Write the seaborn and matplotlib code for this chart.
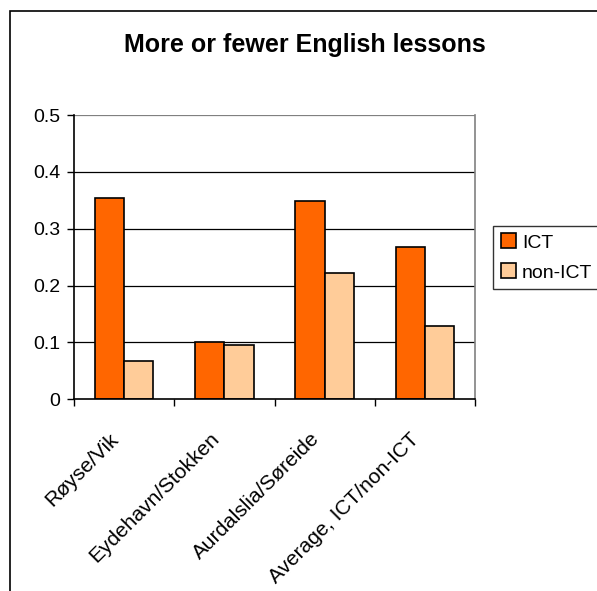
import matplotlib
matplotlib.use("Agg")
import matplotlib.pyplot as plt
import matplotlib.transforms as mtransforms
from matplotlib.patches import Rectangle
import seaborn as sns
import pandas as pd
import numpy as np

categories = ["Røyse/Vik", "Eydehavn/Stokken", "Aurdalslia/Søreide", "Average, ICT/non-ICT"]
ict = [0.354, 0.101, 0.348, 0.267]
non_ict = [0.067, 0.095, 0.222, 0.129]
series = ["ICT", "non-ICT"]
yticks = [0, 0.1, 0.2, 0.3, 0.4, 0.5]
ytick_labels = ["0", "0.1", "0.2", "0.3", "0.4", "0.5"]

df = pd.DataFrame({
    "school": categories * 2,
    "group": [series[0]] * len(categories) + [series[1]] * len(categories),
    "value": ict + non_ict,
})

sns.set_theme(style="white")
plt.rcParams["font.family"] = ["Liberation Sans", "DejaVu Sans"]
plt.rcParams["text.color"] = "black"
plt.rcParams["xtick.color"] = "black"
plt.rcParams["ytick.color"] = "black"

fig = plt.figure(figsize=(5.97, 5.91), dpi=100)
ax = fig.add_axes([74 / 597, 1 - 399.3 / 591, (475 - 74) / 597, (399.3 - 115) / 591])

# outer chart frame (only left and top edges fall inside the canvas)
fig.patches.append(Rectangle((10 / 597, -0.1), 2, 1 - 11 / 591 + 0.1,
                             transform=fig.transFigure, fill=False,
                             edgecolor="black", linewidth=1.2, zorder=0))

# horizontal gridlines
for t in yticks[1:]:
    ax.axhline(t, color="#000000" if t < 0.5 else "#808080", linewidth=0.9, zorder=0)

sns.barplot(data=df, x="school", y="value", hue="group", order=categories,
            hue_order=series, palette=["#FF6600", "#FFCC99"],
            width=0.585, edgecolor="black", linewidth=1.2, saturation=1,
            ax=ax, zorder=2)

ax.set_ylim(0, 0.5)
ax.set_xlim(-0.5, len(categories) - 0.5)
ax.set_yticks(yticks)
ax.set_yticklabels(ytick_labels, fontsize=14, color="black")

# category labels, rotated 45 degrees, right end just left of each group centre
ax.set_xticks(range(len(categories)))
ax.set_xticklabels([])
ax.tick_params(axis="x", length=0)
label_shift = mtransforms.ScaledTranslation(-15 / 100, -30 / 100, fig.dpi_scale_trans)
for i, name in enumerate(categories):
    ax.text(i, 0, name, transform=ax.get_xaxis_transform() + label_shift,
            rotation=45, ha="right", va="top", rotation_mode="anchor",
            fontsize=15, color="black")

ax.tick_params(axis="y", length=5, width=1, direction="out", left=True, pad=5)
ax.set_xticks(np.arange(-0.5, len(categories), 1.0), minor=True)
ax.tick_params(axis="x", which="minor", length=5, width=1, direction="out", bottom=True)
ax.set_xlabel("")
ax.set_ylabel("")

ax.spines["top"].set_visible(False)
ax.spines["left"].set_color("black")
ax.spines["left"].set_linewidth(1.2)
ax.spines["bottom"].set_color("black")
ax.spines["bottom"].set_linewidth(1.2)
ax.spines["right"].set_color("#808080")
ax.spines["right"].set_linewidth(1.2)

fig.text(305 / 597, 1 - 45 / 591, "More or fewer English lessons", ha="center",
         va="center", fontsize=18, fontweight="bold", color="black")

leg = ax.legend(loc="center left", bbox_to_anchor=(493 / 597, 1 - 257.5 / 591),
                bbox_transform=fig.transFigure, fontsize=14, frameon=True,
                fancybox=False, edgecolor="black", handlelength=0.8,
                handleheight=0.8, handletextpad=0.3, borderpad=0.4,
                labelspacing=0.6, borderaxespad=0)
leg.get_frame().set_linewidth(1.0)
for t in leg.get_texts():
    t.set_color("black")

fig.savefig("out.png", dpi=100)
